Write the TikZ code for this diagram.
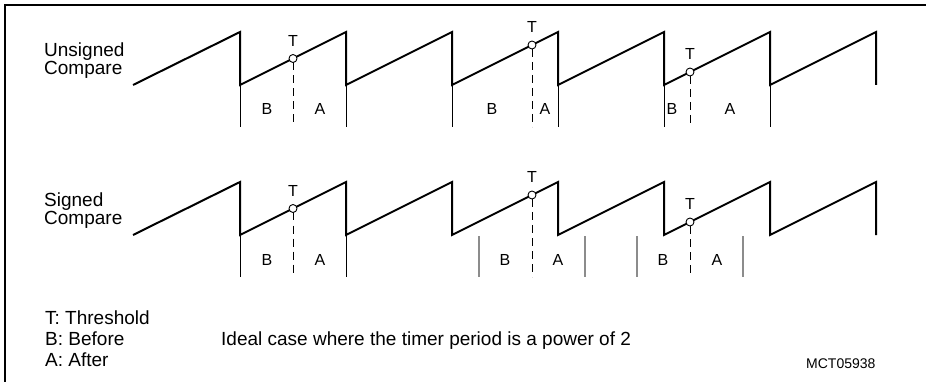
\documentclass[tikz,border=0pt]{standalone}
\usepackage{fontspec}
\setmainfont{Liberation Sans}
\begin{document}
\begin{tikzpicture}[x=1pt,y=-1pt,
  wave/.style={line width=2pt, line join=miter},
  tick/.style={line width=0.9pt},
  gtick/.style={line width=1.2pt, draw=black!45},
  tdash/.style={line width=0.9pt, dash pattern=on 8pt off 5pt},
  lbl/.style={font=\fontsize{19}{21}\selectfont, inner sep=0pt, anchor=base west},
  ab/.style={font=\fontsize{16}{18}\selectfont, inner sep=0pt, anchor=base},
  tp/.style={circle, draw, fill=white, line width=0.9pt, minimum size=8pt, inner sep=0pt}]
\useasboundingbox (0,0) rectangle (926,382);
\draw[line width=1.5pt] (5,382) -- (5,5) -- (926,5);

% ---------- Unsigned compare ----------
\node[lbl] (ul1) at (44,57) {Unsigned};
\node[lbl] (ul2) at (44,75) {Compare};
\draw[wave] (133,85) \foreach \p in {240,346,452,558,664,770,876} { -- (\p,32) -- (\p,85) };
\foreach \p in {240,346,452,558,664,770} { \draw[tick] (\p,85) -- (\p,127); }
\draw[tdash] (293,62.5) -- (293,127);
\draw[tdash] (532,49) -- (532,127);
\draw[tdash] (690,76) -- (690,127);
\node[tp] (ut1) at (293,58.5) {};
\node[tp] (ut2) at (532,45) {};
\node[tp] (ut3) at (690,72) {};
\node[ab] (uT1) at (293,46.5) {T};
\node[ab] (uT2) at (532,33) {T};
\node[ab] (uT3) at (690,60) {T};
\node[ab] (uB1) at (267,115) {B};
\node[ab] (uA1) at (320,115) {A};
\node[ab] (uB2) at (492,115) {B};
\node[ab] (uA2) at (545,115) {A};
\node[ab] (uB3) at (672,115) {B};
\node[ab] (uA3) at (730,115) {A};

% ---------- Signed compare ----------
\begin{scope}[shift={(0,150)}]
\node[lbl] (sl1) at (44,57) {Signed};
\node[lbl] (sl2) at (44,75) {Compare};
\draw[wave] (133,85) \foreach \p in {240,346,452,558,664,770,876} { -- (\p,32) -- (\p,85) };
\foreach \p in {240,346} { \draw[tick] (\p,85) -- (\p,127); }
\foreach \p in {479,585,637,743} { \draw[gtick] (\p,86) -- (\p,127); }
\draw[tdash] (293,62.5) -- (293,127);
\draw[tdash] (532,49) -- (532,127);
\draw[tdash] (690,76) -- (690,127);
\node[tp] (st1) at (293,58.5) {};
\node[tp] (st2) at (532,45) {};
\node[tp] (st3) at (690,72) {};
\node[ab] (sT1) at (293,46.5) {T};
\node[ab] (sT2) at (532,33) {T};
\node[ab] (sT3) at (690,60) {T};
\node[ab] (sB1) at (267,115) {B};
\node[ab] (sA1) at (320,115) {A};
\node[ab] (sB2) at (505,115) {B};
\node[ab] (sA2) at (558,115) {A};
\node[ab] (sB3) at (663,115) {B};
\node[ab] (sA3) at (717,115) {A};
\end{scope}

% ---------- Legend ----------
\node[lbl] (lg1) at (45,324) {T: Threshold};
\node[lbl] (lg2) at (45,345) {B: Before};
\node[lbl] (lg3) at (45,366) {A: After};
\node[lbl] (cap) at (221,345) {Ideal case where the timer period is a power of 2};
\node[lbl, font=\fontsize{14}{16}\selectfont] (ref) at (806,368) {MCT05938};
\end{tikzpicture}
\end{document}
